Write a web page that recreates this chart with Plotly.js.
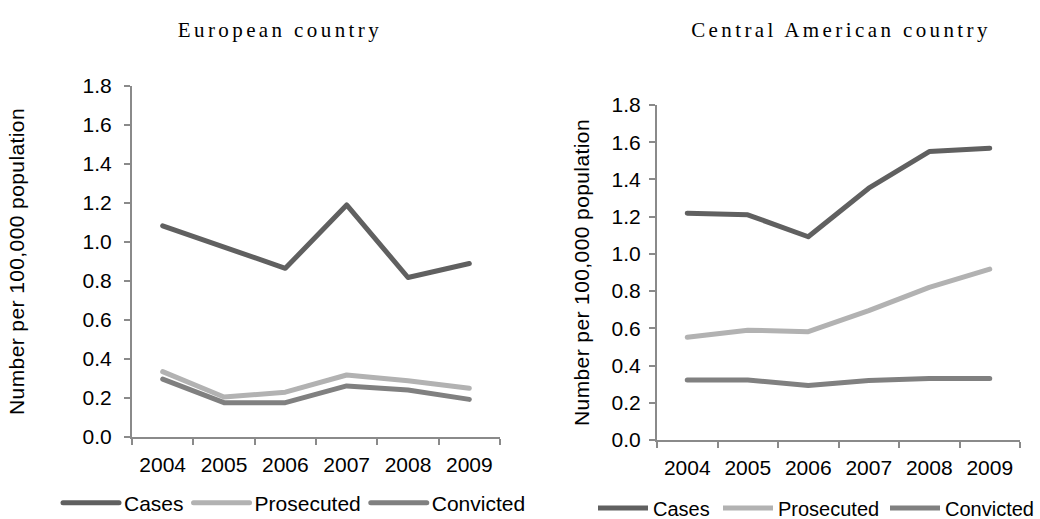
<!DOCTYPE html>
<html>
<head>
<meta charset="utf-8">
<script src="https://cdn.plot.ly/plotly-3.0.1.min.js"></script>
<style>
  html, body { margin: 0; padding: 0; background: #fff; }
  #chart { width: 1040px; height: 519px; }
  .scatterlayer path.js-line, .legend path.js-line { stroke-linecap: round; stroke-linejoin: round; }
</style>
</head>
<body>
<div id="chart"></div>
<script>
const years = ['2004', '2005', '2006', '2007', '2008', '2009'];
const seriesNames = ['Cases', 'Prosecuted', 'Convicted'];
const panelTitles = ['European country', 'Central American country'];
const yTitle = 'Number per 100,000 population';

const euroCases = [1.083, 0.975, 0.865, 1.19, 0.818, 0.89];
const euroProsecuted = [0.335, 0.205, 0.23, 0.318, 0.288, 0.25];
const euroConvicted = [0.297, 0.176, 0.176, 0.262, 0.241, 0.193];

const camCases = [1.219, 1.21, 1.092, 1.353, 1.55, 1.568];
const camProsecuted = [0.552, 0.59, 0.582, 0.695, 0.82, 0.918];
const camConvicted = [0.322, 0.322, 0.293, 0.32, 0.331, 0.331];

const colors = ['#606060', '#b2b2b2', '#808080'];
const rightLegendWidths = [60, 102, 86];

function mk(vals, i, xa, ya, leg, lw) {
  const t = {
    x: years, y: vals, type: 'scatter', mode: 'lines', name: seriesNames[i],
    xaxis: xa, yaxis: ya, legend: leg,
    line: { color: colors[i], width: 5 },
    hoverinfo: 'skip'
  };
  if (lw) t.legendwidth = lw;
  return t;
}

const data = [
  mk(euroCases, 0, 'x', 'y', 'legend'),
  mk(euroProsecuted, 1, 'x', 'y', 'legend'),
  mk(euroConvicted, 2, 'x', 'y', 'legend'),
  mk(camCases, 0, 'x2', 'y2', 'legend2', rightLegendWidths[0]),
  mk(camProsecuted, 1, 'x2', 'y2', 'legend2', rightLegendWidths[1]),
  mk(camConvicted, 2, 'x2', 'y2', 'legend2', rightLegendWidths[2])
];

const W = 1040, H = 519;
const axisCol = '#8a8a8a';
const sans = 'Liberation Sans, Arial, sans-serif';
const tickFont = { family: sans, size: 21, color: '#000' };

function xaxis(dom, anchor) {
  return {
    domain: dom, anchor: anchor, type: 'category', range: [-0.5, 5.5],
    showline: true, linecolor: axisCol, linewidth: 2,
    ticks: 'outside', tickson: 'boundaries', ticklen: 6, tickcolor: axisCol, tickwidth: 2,
    showgrid: false, zeroline: false, tickfont: tickFont, ticklabelstandoff: 8
  };
}
function yaxis(dom, anchor, lblStand, titleStand) {
  return {
    domain: dom, anchor: anchor, range: [0, 1.8], dtick: 0.2, tickformat: '.1f',
    showline: true, linecolor: axisCol, linewidth: 2,
    ticks: 'outside', ticklen: 6, tickcolor: axisCol, tickwidth: 2,
    showgrid: false, zeroline: false, tickfont: tickFont, ticklabelstandoff: lblStand,
    title: { text: yTitle, font: { family: sans, size: 21, color: '#000' }, standoff: titleStand }
  };
}

const layout = {
  width: W, height: H,
  margin: { l: 0, r: 0, t: 0, b: 0, autoexpand: false },
  paper_bgcolor: '#fff', plot_bgcolor: '#fff',
  showlegend: true,
  xaxis: xaxis([132 / W, 500 / W], 'y'),
  yaxis: yaxis([(H - 437) / H, (H - 86) / H], 'x', 8, 52),
  xaxis2: xaxis([657 / W, 1020 / W], 'y2'),
  yaxis2: yaxis([(H - 440) / H, (H - 105) / H], 'x2', 4, 16),
  legend: {
    orientation: 'h', x: 58 / W, xanchor: 'left', y: (H - 503) / H, yanchor: 'middle',
    font: { family: sans, size: 21, color: '#000' },
    itemwidth: 56, bgcolor: 'rgba(0,0,0,0)', borderwidth: 0, tracegroupgap: 0
  },
  legend2: {
    orientation: 'h', x: 593 / W, xanchor: 'left', y: (H - 508) / H, yanchor: 'middle',
    font: { family: sans, size: 20, color: '#000' },
    itemwidth: 50, bgcolor: 'rgba(0,0,0,0)', borderwidth: 0, tracegroupgap: 0
  },
  annotations: [
    { text: panelTitles[0], x: 280 / W, y: (H - 30) / H, xref: 'paper', yref: 'paper',
      xanchor: 'center', yanchor: 'middle', showarrow: false,
      font: { family: 'Liberation Serif, Times New Roman, serif', size: 21, color: '#000' } },
    { text: panelTitles[1], x: 841 / W, y: (H - 30) / H, xref: 'paper', yref: 'paper',
      xanchor: 'center', yanchor: 'middle', showarrow: false,
      font: { family: 'Liberation Serif, Times New Roman, serif', size: 21, color: '#000' } }
  ]
};

Plotly.newPlot('chart', data, layout, { displayModeBar: false, staticPlot: true }).then(function (gd) {
  document.querySelectorAll('.annotation-text').forEach(function (t) {
    t.style.letterSpacing = '3.4px';
  });
  document.querySelectorAll('.ytitle, .y2title').forEach(function (t) {
    t.style.letterSpacing = '0.4px';
  });
});
</script>
</body>
</html>
